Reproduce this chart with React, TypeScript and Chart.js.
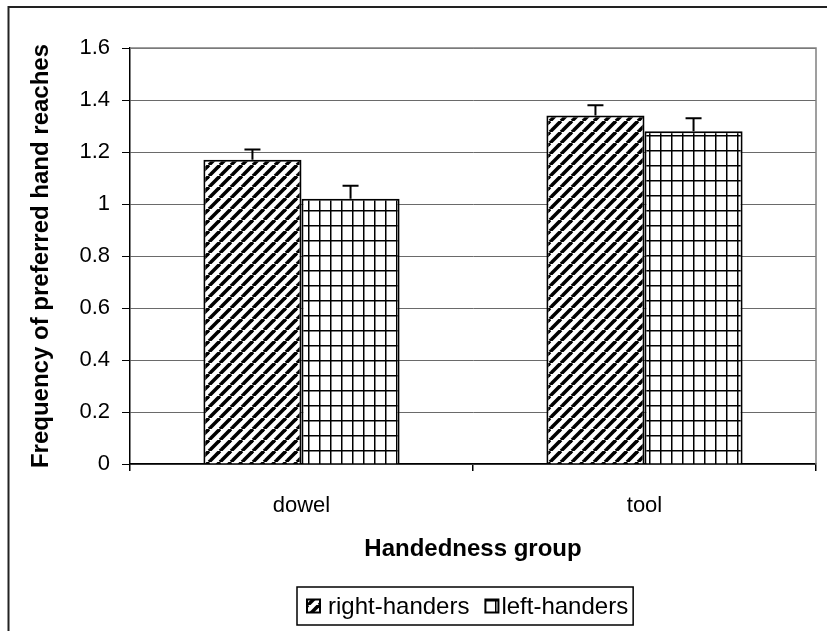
import React, { useEffect, useRef } from 'react';
import { Chart, registerables } from 'chart.js';

Chart.register(...registerables);

const categories = ['dowel', 'tool'];
const seriesLabels = ['right-handers', 'left-handers'];
const rightHanders = [1.17, 1.34];
const leftHanders = [1.02, 1.28];
const rightErrors = [0.04, 0.04];
const leftErrors = [0.05, 0.05];
const yTickLabels = ['0', '0.2', '0.4', '0.6', '0.8', '1', '1.2', '1.4', '1.6'];
const xTitle = 'Handedness group';
const yTitle = 'Frequency of preferred hand reaches';

const FONT = '"Liberation Sans", Arial, sans-serif';

function makeDiagPattern(ctx: CanvasRenderingContext2D, w: number, h: number, lw: number) {
  const c = document.createElement('canvas');
  c.width = w;
  c.height = h;
  const g = c.getContext('2d')!;
  g.fillStyle = '#fff';
  g.fillRect(0, 0, w, h);
  g.strokeStyle = '#000';
  g.lineWidth = lw;
  for (const o of [-w, 0, w]) {
    g.beginPath();
    g.moveTo(o, h);
    g.lineTo(o + w, 0);
    g.stroke();
  }
  return ctx.createPattern(c, 'repeat')!;
}

function makeGridPattern(ctx: CanvasRenderingContext2D, w: number, h: number, lw: number) {
  const c = document.createElement('canvas');
  c.width = w;
  c.height = h;
  const g = c.getContext('2d')!;
  g.fillStyle = '#fff';
  g.fillRect(0, 0, w, h);
  g.fillStyle = '#000';
  g.fillRect(0, 0, lw, h);
  g.fillRect(0, 0, w, lw);
  return ctx.createPattern(c, 'repeat')!;
}

export default function App() {
  const ref = useRef<HTMLCanvasElement | null>(null);

  useEffect(() => {
    const canvas = ref.current!;
    const ctx = canvas.getContext('2d')!;
    const diag = makeDiagPattern(ctx, 11, 11, 3.6);
    const grid = makeGridPattern(ctx, 11, 15, 1.5);
    const errors = [rightErrors, leftErrors];
    const patterns = [diag, grid];

    const decor = {
      id: 'decor',
      beforeDraw(chart: any) {
        const c = chart.ctx;
        c.save();
        c.fillStyle = '#fff';
        c.fillRect(0, 0, chart.width, chart.height);
        c.restore();
      },
      afterDatasetsDraw(chart: any) {
        const c = chart.ctx;
        const y = chart.scales.y;
        const a = chart.chartArea;
        c.save();
        // plot area top/right border
        c.strokeStyle = '#808080';
        c.lineWidth = 1.5;
        c.beginPath();
        c.moveTo(a.left, a.top);
        c.lineTo(a.right, a.top);
        c.lineTo(a.right, a.bottom);
        c.stroke();
        // error bars
        c.strokeStyle = '#000';
        c.lineWidth = 2;
        chart.data.datasets.forEach((ds: any, di: number) => {
          const meta = chart.getDatasetMeta(di);
          meta.data.forEach((bar: any, i: number) => {
            const v = ds.data[i];
            const top = y.getPixelForValue(v + errors[di][i]);
            c.beginPath();
            c.moveTo(bar.x, bar.y);
            c.lineTo(bar.x, top);
            c.moveTo(bar.x - 8, top);
            c.lineTo(bar.x + 8, top);
            c.stroke();
          });
        });
        // outer border
        c.strokeStyle = '#222';
        c.lineWidth = 2;
        c.beginPath();
        c.moveTo(8.5, chart.height);
        c.lineTo(8.5, 7);
        c.lineTo(chart.width, 7);
        c.stroke();
        // legend
        const fs = 24;
        c.font = `${fs}px ${FONT}`;
        c.textBaseline = 'middle';
        c.fillStyle = '#000';
        const boxL = 297, boxT = 587, boxB = 625;
        const cy = (boxT + boxB) / 2;
        const sw = 13;
        const gaps = [8, 3];
        const items: { x: number; tx: number; t: number }[] = [];
        let x = boxL + 10;
        seriesLabels.forEach((lab, i) => {
          const tw = c.measureText(lab).width;
          const tx = x + sw + gaps[i];
          items.push({ x, tx, t: tw });
          x = tx + tw + 16;
        });
        const last = items[items.length - 1];
        const boxR = last.tx + last.t + 5;
        c.lineWidth = 1.5;
        c.strokeStyle = '#000';
        c.strokeRect(boxL, boxT, boxR - boxL, boxB - boxT);
        seriesLabels.forEach((lab, i) => {
          const it = items[i];
          c.fillStyle = patterns[i];
          c.fillRect(it.x, cy - sw / 2, sw, sw);
          c.lineWidth = 2;
          c.strokeRect(it.x, cy - sw / 2, sw, sw);
          c.fillStyle = '#000';
          c.fillText(lab, it.tx, cy + 1);
        });
        c.restore();
      },
    };

    const chart = new Chart(canvas, {
      type: 'bar',
      data: {
        labels: categories,
        datasets: [
          {
            label: seriesLabels[0],
            data: rightHanders,
            backgroundColor: diag as any,
            borderColor: '#000',
            borderWidth: 2,
            barPercentage: 1,
            categoryPercentage: 0.572,
          },
          {
            label: seriesLabels[1],
            data: leftHanders,
            backgroundColor: grid as any,
            borderColor: '#000',
            borderWidth: 2,
            barPercentage: 1,
            categoryPercentage: 0.572,
          },
        ],
      },
      options: {
        responsive: false,
        animation: false,
        devicePixelRatio: 1,
        layout: { padding: { left: 0, top: 48, right: 11, bottom: 0 } },
        plugins: {
          legend: { display: false },
          tooltip: { enabled: false },
        },
        scales: {
          x: {
            grid: {
              offset: true,
              drawOnChartArea: false,
              drawTicks: true,
              tickLength: 7,
              color: '#000',
              lineWidth: 1.5,
            },
            border: { display: true, color: '#000', width: 1.5 },
            ticks: { font: { family: FONT, size: 22 }, color: '#000', padding: 22 },
            title: {
              display: true,
              text: xTitle,
              font: { family: FONT, size: 24, weight: 'bold' },
              color: '#000',
              padding: { top: 0, bottom: 67 },
            },
            afterFit: (s: any) => {
              s.height = 167;
            },
          },
          y: {
            min: 0,
            max: 1.6,
            ticks: {
              stepSize: 0.2,
              font: { family: FONT, size: 22 },
              color: '#000',
              padding: 12,
              callback: (_v: any, i: number) => yTickLabels[i],
            },
            grid: { color: '#6a6a6a', lineWidth: 1, tickColor: '#000', tickLength: 8 },
            border: { display: true, color: '#000', width: 1.5 },
            title: {
              display: true,
              text: yTitle,
              font: { family: FONT, size: 24, weight: 'bold' },
              color: '#000',
              padding: { top: 27, bottom: 0 },
            },
            afterFit: (s: any) => {
              s.width = 130;
            },
          },
        },
      } as any,
      plugins: [decor],
    });
    return () => chart.destroy();
  }, []);

  return (
    <div style={{ position: 'absolute', left: 0, top: 0, width: 827, height: 631 }}>
      <canvas ref={ref} width={827} height={631} style={{ display: 'block' }} />
    </div>
  );
}
